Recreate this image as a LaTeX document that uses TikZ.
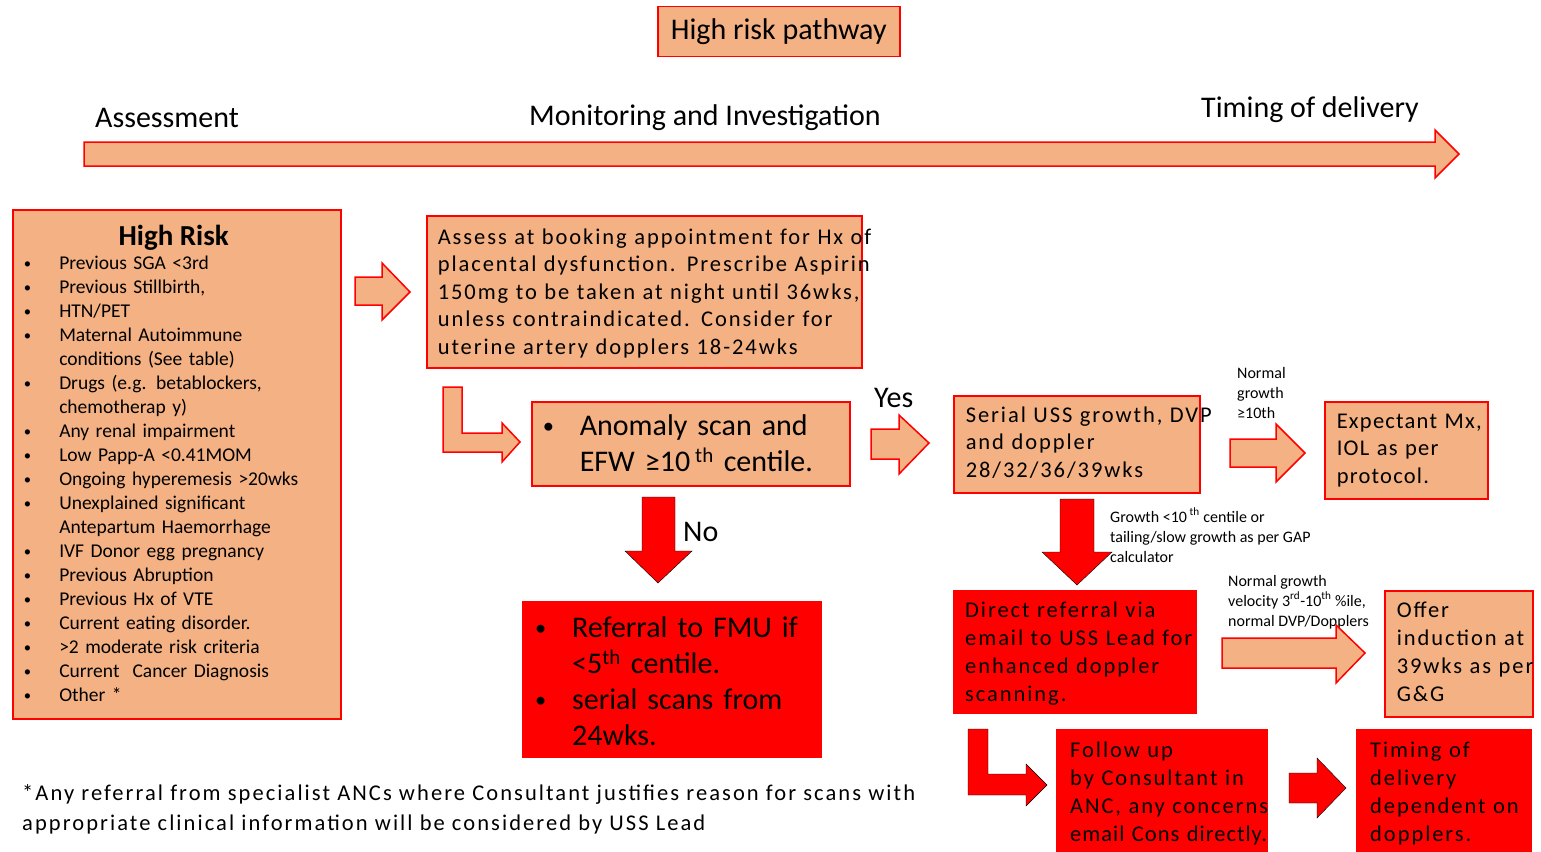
\documentclass[tikz,border=0pt]{standalone}
\usepackage{fontspec}
\setmainfont{Carlito}
\newfontfamily\spacedfont{Carlito}[LetterSpace=8.6]

\definecolor{salmon}{HTML}{F4B183}
\definecolor{pathred}{HTML}{FF0000}

% lines of a box, set as one block
\newcommand{\stack}[1]{\noindent\begin{tabular}{@{}l@{}}#1\end{tabular}}
\newcommand{\topstack}[1]{\begin{tabular}[t]{@{}l@{}}#1\end{tabular}}
\newcommand{\bul}[2]{\makebox[#1][l]{\raisebox{0.08em}{\scalebox{0.75}{\textbullet}}}#2}

\tikzset{
  salmonbox/.style={draw=pathred, fill=salmon, line width=1.5pt, inner ysep=0pt, anchor=north west, align=left},
  redbox/.style={fill=pathred, inner ysep=0pt, anchor=north west, align=left},
  salmonarrow/.style={draw=pathred, fill=salmon, line width=1.5pt},
  redarrow/.style={fill=pathred},
  boxtext/.style={font=\spacedfont\fontsize{22.5}{27.5}\selectfont},
  listtext/.style={font=\fontsize{19.5}{24}\selectfont},
  bigtext/.style={font=\fontsize{30}{36}\selectfont},
  smalltext/.style={font=\fontsize{16}{20}\selectfont, inner sep=0pt, anchor=base west},
}

\begin{document}
\begin{tikzpicture}[x=1pt, y=-1pt]
    \useasboundingbox (0,0) rectangle (1541,851);

    % Title
    \node[salmonbox, bigtext, minimum width=242pt, minimum height=50pt, inner sep=0pt, align=center] (title) at (657,6) {High risk pathway};

    % Timeline
    \node[bigtext, anchor=base west, inner sep=0pt] (assessment) at (95,127) {Assessment};
    \node[bigtext, anchor=base west, inner sep=0pt] (monitoring) at (529,125) {Monitoring and Investigation};
    \node[bigtext, anchor=base west, inner sep=0pt] (timing) at (1201,117) {Timing of delivery};
    \draw[salmonarrow] (84,142) -- (1435,142) -- (1435,130) -- (1459,154) -- (1435,178) -- (1435,166) -- (84,166) -- cycle;

    % High risk criteria
    \node[salmonbox, listtext, minimum height=509pt, text width=306pt, inner xsep=11pt] (highrisk) at (12,209) {\stack{%
        \makebox[300pt]{\bfseries\fontsize{29}{34}\selectfont High Risk}\\
        \bul{35.5pt}{Previous SGA <3rd}\\
        \bul{35.5pt}{Previous Stillbirth,}\\
        \bul{35.5pt}{HTN/PET}\\
        \bul{35.5pt}{Maternal Autoimmune}\\
        \hspace*{35.5pt}conditions (See table)\\
        \bul{35.5pt}{Drugs (e.g. betablockers,}\\
        \hspace*{35.5pt}chemotherap y)\\
        \bul{35.5pt}{Any renal impairment}\\
        \bul{35.5pt}{Low Papp-A <0.41MOM}\\
        \bul{35.5pt}{Ongoing hyperemesis >20wks}\\
        \bul{35.5pt}{Unexplained significant}\\
        \hspace*{35.5pt}Antepartum Haemorrhage\\
        \bul{35.5pt}{IVF Donor egg pregnancy}\\
        \bul{35.5pt}{Previous Abruption}\\
        \bul{35.5pt}{Previous Hx of VTE}\\
        \bul{35.5pt}{Current eating disorder.}\\
        \bul{35.5pt}{>2 moderate risk criteria}\\
        \bul{35.5pt}{Current\ \ Cancer Diagnosis}\\
        \bul{35.5pt}{Other *}\\[-6pt]}};

    % Booking assessment
    \draw[salmonarrow] (355,277) -- (382,277) -- (382,263) -- (410,292) -- (382,320) -- (382,305) -- (355,305) -- cycle;
    \node[salmonbox, boxtext, minimum height=152pt, text width=413pt, inner xsep=11pt] (assess) at (426,215) {\stack{%
        Assess at booking appointment for Hx of\\
        placental dysfunction. Prescribe Aspirin\\
        150mg to be taken at night until 36wks,\\
        unless contraindicated. Consider for\\
        uterine artery dopplers 18-24wks\\[-4pt]}};

    % Anomaly scan
    \draw[salmonarrow] (443,387) -- (462,387) -- (462,433) -- (502,433) -- (502,423) -- (520,442) -- (502,462) -- (502,452) -- (443,452) -- cycle;
    \node[salmonbox, bigtext, minimum height=84pt, text width=296pt, inner xsep=11pt] (anomaly) at (531,401) {\stack{%
        \bul{37pt}{Anomaly scan and}\\
        \hspace*{37pt}EFW ≥10\,\textsuperscript{th} centile.\\[-6pt]}};

    % No: referral to FMU
    \draw[redarrow] (642,497) -- (675,497) -- (675,551) -- (692,551) -- (658,583) -- (625,551) -- (642,551) -- cycle;
    \node[bigtext, anchor=base west, inner sep=0pt] (no) at (683,541) {No};
    \node[redbox, bigtext, minimum height=157pt, text width=274pt, inner xsep=13pt] (referral) at (522,601) {\stack{%
        \bul{37pt}{Referral to FMU if}\\
        \hspace*{37pt}<5\textsuperscript{th} centile.\\
        \bul{37pt}{serial scans from}\\
        \hspace*{37pt}24wks.\\[-10pt]}};

    % Yes: serial scans
    \node[bigtext, anchor=base west, inner sep=0pt] (yes) at (874,407) {Yes};
    \draw[salmonarrow] (871,429) -- (899,429) -- (899,415) -- (929,443) -- (899,474) -- (899,459) -- (871,459) -- cycle;
    \node[salmonbox, boxtext, minimum height=97pt, text width=222pt, inner xsep=12pt] (serial) at (953,395) {\stack{%
        Serial USS growth, DVP\\
        and doppler\\
        28/32/36/39wks}};

    % Normal growth
    \node[smalltext] (normlabel) at (1237,378) {\topstack{Normal\\ growth\\ ≥10th}};
    \draw[salmonarrow] (1230,439) -- (1276,439) -- (1276,424) -- (1305,453) -- (1276,482) -- (1276,467) -- (1230,467) -- cycle;
    \node[salmonbox, boxtext, minimum height=97pt, text width=139pt, inner xsep=12pt] (expectant) at (1324,401) {\addfontfeature{LetterSpace=5.5}\stack{%
        Expectant Mx,\\
        IOL as per\\
        protocol.}};

    % Slow growth
    \draw[redarrow] (1060,499) -- (1094,499) -- (1094,552) -- (1112,552) -- (1077,585) -- (1042,552) -- (1060,552) -- cycle;
    \node[smalltext] (growthlabel) at (1110,522) {\topstack{Growth <10\,\textsuperscript{th} centile or\\ tailing/slow growth as per GAP\\ calculator}};
    \node[redbox, boxtext, minimum height=124pt, text width=220pt, inner xsep=12pt] (direct) at (953,590) {\spacedfont\fontsize{22.5}{28}\selectfont\stack{%
        Direct referral via\\
        email to USS Lead for\\
        enhanced doppler\\
        scanning.\\[-3pt]}};

    % Normal velocity
    \node[smalltext] (velocitylabel) at (1228,586) {\topstack{Normal growth\\ velocity 3\textsuperscript{rd}-10\textsuperscript{th} \%ile,\\ normal DVP/Dopplers}};
    \draw[salmonarrow] (1222,638) -- (1336,638) -- (1336,625) -- (1365,653) -- (1336,683) -- (1336,668) -- (1222,668) -- cycle;
    \node[salmonbox, boxtext, minimum height=126pt, text width=124pt, inner xsep=12pt] (offer) at (1384,590) {\spacedfont\fontsize{22.5}{28}\selectfont\stack{%
        Offer\\
        induction at\\
        39wks as per\\
        G\&G}};

    % Follow up and timing
    \draw[redarrow] (968,729) -- (988,729) -- (988,774) -- (1026,774) -- (1026,764) -- (1047,785) -- (1026,806) -- (1026,795) -- (968,795) -- cycle;
    \node[redbox, boxtext, minimum height=130pt, text width=184pt, inner xsep=14pt] (follow) at (1056,729) {\spacedfont\fontsize{22.5}{28}\selectfont\stack{%
        Follow up\\
        by Consultant in\\
        ANC, any concerns\\
        {\addfontfeature{LetterSpace=4.4}email Cons directly.}}};
    \draw[redarrow] (1289,773) -- (1317,773) -- (1317,758) -- (1346,788) -- (1317,818) -- (1317,803) -- (1289,803) -- cycle;
    \node[redbox, boxtext, minimum height=130pt, text width=148pt, inner xsep=14pt] (delivery) at (1356,729) {\spacedfont\fontsize{22.5}{28}\selectfont\stack{%
        Timing of\\
        delivery\\
        dependent on\\
        dopplers.}};

    % Footnote
    \node[boxtext, anchor=base west, inner sep=0pt] (note) at (22,800) {\spacedfont\fontsize{22.5}{30}\selectfont\addfontfeature{LetterSpace=9.2}\topstack{%
        *Any referral from specialist ANCs where Consultant justifies reason for scans with\\
        appropriate clinical information will be considered by USS Lead}};

\end{tikzpicture}
\end{document}
